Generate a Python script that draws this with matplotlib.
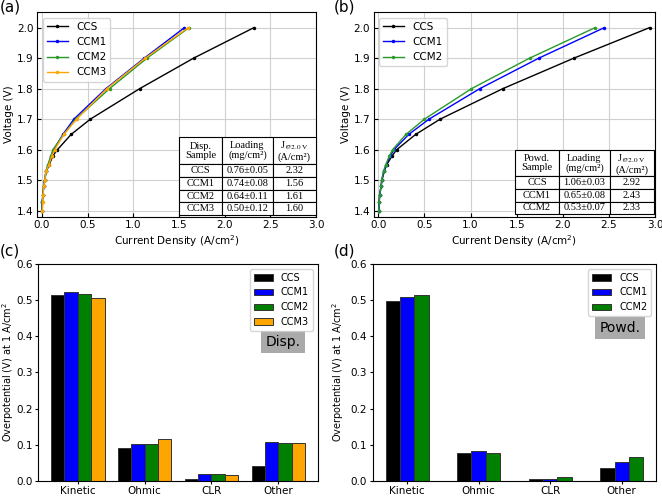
import numpy as np
import matplotlib
matplotlib.use("Agg")
import matplotlib.pyplot as plt

# polarization curves, voltage steps shared by all samples
voltage = [1.40, 1.43, 1.45, 1.48, 1.50, 1.53, 1.55, 1.58, 1.60, 1.65, 1.70, 1.80, 1.90, 2.00]

disp_ccs = [0.0, 0.005, 0.01, 0.02, 0.03, 0.05, 0.08, 0.12, 0.17, 0.32, 0.53, 1.07, 1.66, 2.32]
disp_ccm1 = [0.0, 0.005, 0.01, 0.02, 0.03, 0.045, 0.07, 0.10, 0.13, 0.23, 0.35, 0.70, 1.12, 1.56]
disp_ccm2 = [0.0, 0.005, 0.01, 0.02, 0.03, 0.045, 0.065, 0.10, 0.12, 0.24, 0.37, 0.74, 1.15, 1.61]
disp_ccm3 = [0.005, 0.01, 0.012, 0.02, 0.03, 0.048, 0.076, 0.11, 0.14, 0.24, 0.38, 0.71, 1.13, 1.60]

powd_ccs = [0.005, 0.01, 0.014, 0.03, 0.04, 0.065, 0.09, 0.15, 0.20, 0.405, 0.67, 1.35, 2.12, 2.94]
powd_ccm1 = [0.005, 0.01, 0.014, 0.03, 0.037, 0.06, 0.085, 0.13, 0.17, 0.33, 0.55, 1.10, 1.74, 2.45]
powd_ccm2 = [0.005, 0.01, 0.014, 0.03, 0.036, 0.058, 0.08, 0.12, 0.155, 0.30, 0.50, 1.01, 1.64, 2.35]

# tables
disp_table = [["Disp.\nSample", "Loading\n(mg/cm²)", "J$_{\\mathrm{@2.0\\ V}}$\n(A/cm²)"],
              ["CCS", "0.76±0.05", "2.32"],
              ["CCM1", "0.74±0.08", "1.56"],
              ["CCM2", "0.64±0.11", "1.61"],
              ["CCM3", "0.50±0.12", "1.60"]]
powd_table = [["Powd.\nSample", "Loading\n(mg/cm²)", "J$_{\\mathrm{@2.0\\ V}}$\n(A/cm²)"],
              ["CCS", "1.06±0.03", "2.92"],
              ["CCM1", "0.65±0.08", "2.43"],
              ["CCM2", "0.53±0.07", "2.33"]]

# overpotential breakdown at 1 A/cm2
categories = ["Kinetic", "Ohmic", "CLR", "Other"]
disp_bars = {"CCS": [0.515, 0.091, 0.007, 0.042],
             "CCM1": [0.521, 0.102, 0.020, 0.108],
             "CCM2": [0.517, 0.102, 0.021, 0.104],
             "CCM3": [0.507, 0.117, 0.016, 0.105]}
powd_bars = {"CCS": [0.497, 0.077, 0.005, 0.036],
             "CCM1": [0.508, 0.082, 0.007, 0.053],
             "CCM2": [0.514, 0.079, 0.012, 0.066]}

colors = {"CCS": "black", "CCM1": "blue", "CCM2": "green", "CCM3": "orange"}
line_colors = {"CCS": "black", "CCM1": "blue", "CCM2": "#2a9a2a", "CCM3": "orange"}

plt.rcParams["font.size"] = 7.5
plt.rcParams["xtick.major.size"] = 2.5
plt.rcParams["ytick.major.size"] = 2.5
plt.rcParams["xtick.major.pad"] = 2.5
plt.rcParams["ytick.major.pad"] = 2.5

fig = plt.figure(figsize=(6.62, 4.96), dpi=100)
ax_a = fig.add_axes([0.0564, 0.563, 0.421, 0.412])
ax_b = fig.add_axes([0.5645, 0.563, 0.425, 0.412])
ax_c = fig.add_axes([0.058, 0.03, 0.422, 0.438])
ax_d = fig.add_axes([0.563, 0.03, 0.428, 0.438])


def curve_panel(ax, series, table, tbox):
    for name, j in series:
        ax.plot(j, voltage, color=line_colors[name], marker=".", markersize=3, lw=1, label=name)
    ax.set_xlim(-0.05, 3.0)
    ax.set_ylim(1.38, 2.05)
    ax.set_xticks(np.arange(0, 3.01, 0.5))
    ax.set_yticks(np.arange(1.4, 2.01, 0.1))
    ax.grid(True, color="#d0d0d0", lw=0.8)
    ax.tick_params(direction="in", length=3)
    ax.set_xlabel("Current Density (A/cm$^2$)", labelpad=2)
    ax.set_ylabel("Voltage (V)", labelpad=2)
    ax.legend(loc="upper left", fontsize=7.5)
    tb = ax.table(cellText=table, cellLoc="center", bbox=tbox, zorder=5)
    tb.auto_set_font_size(False)
    widths = [0.31, 0.36, 0.31]
    for (r, c), cell in tb.get_celld().items():
        cell.set_width(widths[c])
        cell.set_height(2.1 if r == 0 else 1.0)
        cell.set_linewidth(0.8)
        cell.set_facecolor("white")
        t = cell.get_text()
        t.set_fontfamily("Liberation Serif")
        t.set_fontsize(7.5)
        t.set_math_fontfamily("stix")
        t.set_linespacing(1.05)


curve_panel(ax_a, [("CCS", disp_ccs), ("CCM1", disp_ccm1), ("CCM2", disp_ccm2), ("CCM3", disp_ccm3)],
            disp_table, [0.508, 0.008, 0.492, 0.38])
curve_panel(ax_b, [("CCS", powd_ccs), ("CCM1", powd_ccm1), ("CCM2", powd_ccm2)],
            powd_table, [0.503, 0.013, 0.492, 0.313])


def bar_panel(ax, bars, tag, tag_pos, label_x):
    x = np.arange(len(categories))
    n = len(bars)
    w = 0.2
    for i, (name, vals) in enumerate(bars.items()):
        ax.bar(x + (i - (n - 1) / 2) * w, vals, w, color=colors[name],
               edgecolor="#333333", linewidth=0.7, label=name)
    ax.set_xticks(x)
    ax.set_xticklabels(categories)
    ax.tick_params(axis="x", pad=1)
    ax.tick_params(axis="y", pad=1.5)
    ax.set_ylim(0, 0.6)
    ax.set_ylabel("Overpotential (V) at 1 A/cm$^2$", fontsize=7)
    ax.yaxis.set_label_coords(label_x, 0.5)
    ax.legend(loc="upper right", fontsize=7)
    ax.text(tag_pos[0], tag_pos[1], tag, transform=ax.transAxes, ha="center", va="center",
            fontsize=10, bbox=dict(boxstyle="square,pad=0.3", facecolor="#aaaaaa", edgecolor="none"))


bar_panel(ax_c, disp_bars, "Disp.", (0.876, 0.64), -0.08)
bar_panel(ax_d, powd_bars, "Powd.", (0.873, 0.705), -0.094)

for label, (px, py) in zip(["(a)", "(b)", "(c)", "(d)"],
                           [(0.0, 1.0), (0.5045, 1.0), (0.0, 0.51), (0.5045, 0.51)]):
    fig.text(px, py, label, fontsize=11, ha="left", va="top")

fig.savefig("out.png", dpi=100)
